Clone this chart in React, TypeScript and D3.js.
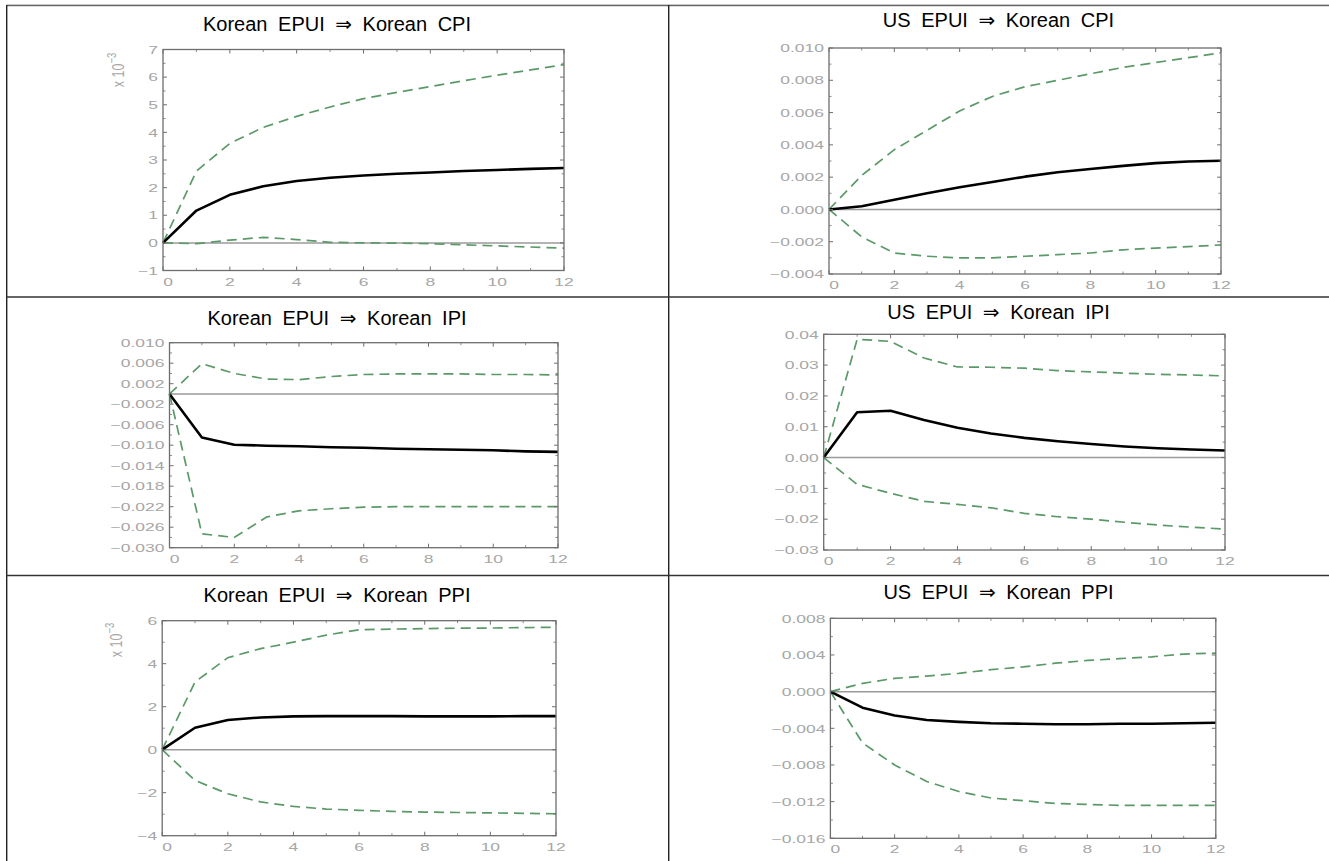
import React from 'react';
import * as d3 from 'd3';

// ---------- data ----------
const horizons = [0, 1, 2, 3, 4, 5, 6, 7, 8, 9, 10, 11, 12];
const xTickValues = [0, 2, 4, 6, 8, 10, 12];

const panelTitles = [
  'Korean EPUI ⇒ Korean CPI',
  'US EPUI ⇒ Korean CPI',
  'Korean EPUI ⇒ Korean IPI',
  'US EPUI ⇒ Korean IPI',
  'Korean EPUI ⇒ Korean PPI',
  'US EPUI ⇒ Korean PPI',
];

// Korean EPUI -> Korean CPI (x 10^-3)
const kCpiResp = [0, 1.17, 1.74, 2.05, 2.24, 2.36, 2.44, 2.5, 2.55, 2.6, 2.64, 2.68, 2.71];
const kCpiUpper = [0, 2.6, 3.6, 4.18, 4.58, 4.92, 5.22, 5.45, 5.66, 5.87, 6.07, 6.26, 6.45];
const kCpiLower = [0, -0.03, 0.1, 0.2, 0.12, 0.02, 0.0, -0.01, -0.03, -0.07, -0.11, -0.15, -0.19];
const kCpiTicks = [-1, 0, 1, 2, 3, 4, 5, 6, 7];

// US EPUI -> Korean CPI
const uCpiResp = [0, 0.0002, 0.0006, 0.001, 0.00137, 0.0017, 0.00203, 0.0023, 0.0025, 0.0027, 0.00287, 0.00297, 0.00302];
const uCpiUpper = [0, 0.0021, 0.0037, 0.0049, 0.0061, 0.007, 0.0076, 0.008, 0.0084, 0.0088, 0.0091, 0.0094, 0.0097];
const uCpiLower = [0, -0.0017, -0.0027, -0.0029, -0.003, -0.003, -0.0029, -0.0028, -0.0027, -0.0025, -0.0024, -0.0023, -0.0022];
const uCpiTicks = [-0.004, -0.002, 0, 0.002, 0.004, 0.006, 0.008, 0.01];

// Korean EPUI -> Korean IPI
const kIpiResp = [0, -0.0085, -0.0099, -0.0101, -0.0102, -0.0104, -0.0105, -0.0107, -0.0108, -0.0109, -0.011, -0.0112, -0.0113];
const kIpiUpper = [0, 0.0059, 0.004, 0.0029, 0.0028, 0.0034, 0.0038, 0.0039, 0.0039, 0.0039, 0.0038, 0.0038, 0.0037];
const kIpiLower = [0, -0.0273, -0.028, -0.024, -0.0228, -0.0224, -0.0221, -0.022, -0.022, -0.022, -0.022, -0.022, -0.022];
const kIpiTicks = [-0.03, -0.026, -0.022, -0.018, -0.014, -0.01, -0.006, -0.002, 0.002, 0.006, 0.01];

// US EPUI -> Korean IPI
const uIpiResp = [0, 0.0147, 0.0152, 0.0122, 0.0097, 0.0078, 0.0064, 0.0053, 0.0044, 0.0036, 0.003, 0.0026, 0.0023];
const uIpiUpper = [0, 0.0384, 0.0377, 0.0323, 0.0294, 0.0293, 0.029, 0.0282, 0.0278, 0.0274, 0.027, 0.0268, 0.0265];
const uIpiLower = [0, -0.0087, -0.0116, -0.0142, -0.0152, -0.0163, -0.0181, -0.0192, -0.02, -0.021, -0.0219, -0.0226, -0.0232];
const uIpiTicks = [-0.03, -0.02, -0.01, 0, 0.01, 0.02, 0.03, 0.04];

// Korean EPUI -> Korean PPI (x 10^-3)
const kPpiResp = [0, 1.02, 1.38, 1.5, 1.55, 1.56, 1.56, 1.56, 1.55, 1.55, 1.55, 1.56, 1.56];
const kPpiUpper = [0, 3.15, 4.28, 4.7, 5.0, 5.33, 5.58, 5.61, 5.63, 5.65, 5.66, 5.68, 5.69];
const kPpiLower = [0, -1.43, -2.05, -2.43, -2.64, -2.76, -2.82, -2.87, -2.9, -2.92, -2.94, -2.96, -2.98];
const kPpiTicks = [-4, -2, 0, 2, 4, 6];

// US EPUI -> Korean PPI
const uPpiResp = [0, -0.00175, -0.0026, -0.0031, -0.0033, -0.00345, -0.0035, -0.00356, -0.00356, -0.0035, -0.0035, -0.00345, -0.0034];
const uPpiUpper = [0, 0.0009, 0.00145, 0.0017, 0.002, 0.0024, 0.0027, 0.0031, 0.0034, 0.0036, 0.0038, 0.0041, 0.0042];
const uPpiLower = [0, -0.0056, -0.008, -0.0098, -0.0109, -0.0116, -0.0119, -0.0122, -0.0123, -0.0124, -0.0124, -0.0124, -0.0124];
const uPpiTicks = [-0.016, -0.012, -0.008, -0.004, 0, 0.004, 0.008];

// ---------- layout ----------
const W = 1329;
const H = 861;
const colCenters = [337, 998.5];

type PanelCfg = {
  title: string;
  cx: number;
  titleY: number;
  left: number;
  right: number;
  top: number;
  bottom: number;
  ticks: number[];
  decimals: number;
  resp: number[];
  upper: number[];
  lower: number[];
  expo?: { x: number; y: number };
};

const panels: PanelCfg[] = [
  { title: panelTitles[0], cx: colCenters[0], titleY: 31, left: 163, right: 564, top: 49.5, bottom: 270.5, ticks: kCpiTicks, decimals: 0, resp: kCpiResp, upper: kCpiUpper, lower: kCpiLower, expo: { x: 119, y: 70 } },
  { title: panelTitles[1], cx: colCenters[1], titleY: 27, left: 829, right: 1221, top: 48, bottom: 274, ticks: uCpiTicks, decimals: 3, resp: uCpiResp, upper: uCpiUpper, lower: uCpiLower },
  { title: panelTitles[2], cx: colCenters[0], titleY: 325, left: 169.5, right: 558, top: 342.7, bottom: 547.7, ticks: kIpiTicks, decimals: 3, resp: kIpiResp, upper: kIpiUpper, lower: kIpiLower },
  { title: panelTitles[3], cx: colCenters[1], titleY: 319, left: 823.7, right: 1225, top: 334.3, bottom: 550, ticks: uIpiTicks, decimals: 2, resp: uIpiResp, upper: uIpiUpper, lower: uIpiLower },
  { title: panelTitles[4], cx: colCenters[0], titleY: 602, left: 162.2, right: 556, top: 620.7, bottom: 835.7, ticks: kPpiTicks, decimals: 0, resp: kPpiResp, upper: kPpiUpper, lower: kPpiLower, expo: { x: 117, y: 640 } },
  { title: panelTitles[5], cx: colCenters[1], titleY: 599, left: 830.4, right: 1215.8, top: 618.3, bottom: 838.3, ticks: uPpiTicks, decimals: 3, resp: uPpiResp, upper: uPpiUpper, lower: uPpiLower },
];

const fmt = (v: number, d: number) => {
  const s = Math.abs(v).toFixed(d);
  return (v < -1e-12 ? '\u2212' : '') + s;
};

const LABEL_COLOR = '#a6a6a6';
const FRAME_COLOR = '#6e6e6e';
const GREEN = '#5b9a68';

function Panel({ p }: { p: PanelCfg }) {
  const yMin = p.ticks[0];
  const yMax = p.ticks[p.ticks.length - 1];
  const x = d3.scaleLinear().domain([0, 12]).range([p.left, p.right]);
  const y = d3.scaleLinear().domain([yMin, yMax]).range([p.bottom, p.top]);
  const line = d3
    .line<number>()
    .x((_, i) => x(horizons[i]))
    .y((d) => y(d));

  const step = p.ticks[1] - p.ticks[0];
  const minorY: number[] = [];
  for (let i = 0; i < p.ticks.length - 1; i++) minorY.push(p.ticks[i] + step / 2);
  const minorX = horizons.filter((h) => h % 2 === 1);

  const MAJ = 4;
  const MIN = 2.5;

  return (
    <g>
      <text
        x={p.cx}
        y={p.titleY}
        textAnchor="middle"
        fontFamily="'Liberation Sans', Arial, 'DejaVu Sans', sans-serif"
        fontSize={20}
        wordSpacing={5}
        fill="#000"
      >
        {p.title}
      </text>

      {/* zero line */}
      <line x1={x(0)} x2={x(12)} y1={y(0)} y2={y(0)} stroke="#9a9a9a" strokeWidth={1.5} />

      {/* bands */}
      <path d={line(p.upper) || ''} fill="none" stroke={GREEN} strokeWidth={1.7} strokeDasharray="10,6" />
      <path d={line(p.lower) || ''} fill="none" stroke={GREEN} strokeWidth={1.7} strokeDasharray="10,6" />
      {/* response */}
      <path d={line(p.resp) || ''} fill="none" stroke="#000" strokeWidth={2.6} strokeLinejoin="round" />

      {/* frame */}
      <rect x={p.left} y={p.top} width={p.right - p.left} height={p.bottom - p.top} fill="none" stroke={FRAME_COLOR} strokeWidth={1.3} />

      {/* y ticks */}
      {p.ticks.map((t, i) => (
        <g key={'yt' + i}>
          <line x1={p.left} x2={p.left + MAJ} y1={y(t)} y2={y(t)} stroke={FRAME_COLOR} strokeWidth={1} />
          <line x1={p.right} x2={p.right - MAJ} y1={y(t)} y2={y(t)} stroke={FRAME_COLOR} strokeWidth={1} />
          <text
            transform={`translate(${p.left - 5},${y(t) + 4.2}) scale(1.52,1)`}
            textAnchor="end"
            fontFamily="'Liberation Sans', Arial, sans-serif"
            fontSize={11.5}
            fill={LABEL_COLOR}
          >
            {fmt(t, p.decimals)}
          </text>
        </g>
      ))}
      {minorY.map((t, i) => (
        <g key={'ym' + i}>
          <line x1={p.left} x2={p.left + MIN} y1={y(t)} y2={y(t)} stroke={FRAME_COLOR} strokeWidth={0.8} />
          <line x1={p.right} x2={p.right - MIN} y1={y(t)} y2={y(t)} stroke={FRAME_COLOR} strokeWidth={0.8} />
        </g>
      ))}

      {/* x ticks */}
      {xTickValues.map((t, i) => (
        <g key={'xt' + i}>
          <line x1={x(t)} x2={x(t)} y1={p.bottom} y2={p.bottom - MAJ} stroke={FRAME_COLOR} strokeWidth={1} />
          <line x1={x(t)} x2={x(t)} y1={p.top} y2={p.top + MAJ} stroke={FRAME_COLOR} strokeWidth={1} />
          <text
            transform={`translate(${x(t) + (t === 0 ? 5 : 0)},${p.bottom + 15}) scale(1.52,1)`}
            textAnchor="middle"
            fontFamily="'Liberation Sans', Arial, sans-serif"
            fontSize={11.5}
            fill={LABEL_COLOR}
          >
            {String(t)}
          </text>
        </g>
      ))}
      {minorX.map((t, i) => (
        <g key={'xm' + i}>
          <line x1={x(t)} x2={x(t)} y1={p.bottom} y2={p.bottom - MIN} stroke={FRAME_COLOR} strokeWidth={0.8} />
          <line x1={x(t)} x2={x(t)} y1={p.top} y2={p.top + MIN} stroke={FRAME_COLOR} strokeWidth={0.8} />
        </g>
      ))}

      {p.expo && (
        <text
          transform={`translate(${p.expo.x + 5},${p.expo.y}) rotate(-90) scale(1,1.3)`}
          textAnchor="middle"
          fontFamily="'Liberation Sans', Arial, sans-serif"
          fontSize={12.5}
          fill={LABEL_COLOR}
        >
          {'x 10'}
          <tspan dy={-6} fontSize={9.5}>
            {'\u22123'}
          </tspan>
        </text>
      )}
    </g>
  );
}

export default function App() {
  return (
    <svg
      width={W}
      height={H}
      viewBox={`0 0 ${W} ${H}`}
      style={{ position: 'absolute', left: 0, top: 0, background: '#fff' }}
    >
      <rect x={0} y={0} width={W} height={H} fill="#fff" />
      {/* table borders */}
      <line x1={6.5} x2={W + 5} y1={4.5} y2={4.5} stroke="#c8c8c8" strokeWidth={1} />
      <line x1={6.5} x2={W + 5} y1={5.7} y2={5.7} stroke="#444" strokeWidth={1} />
      <line x1={6.7} x2={6.7} y1={5} y2={H + 5} stroke="#222" strokeWidth={1.4} />
      <line x1={668.7} x2={668.7} y1={5} y2={H + 5} stroke="#222" strokeWidth={1.4} />
      <line x1={6.5} x2={W + 5} y1={297} y2={297} stroke="#333" strokeWidth={1.4} />
      <line x1={6.5} x2={W + 5} y1={575.5} y2={575.5} stroke="#333" strokeWidth={1.4} />
      {panels.map((p, i) => (
        <Panel key={i} p={p} />
      ))}
    </svg>
  );
}
